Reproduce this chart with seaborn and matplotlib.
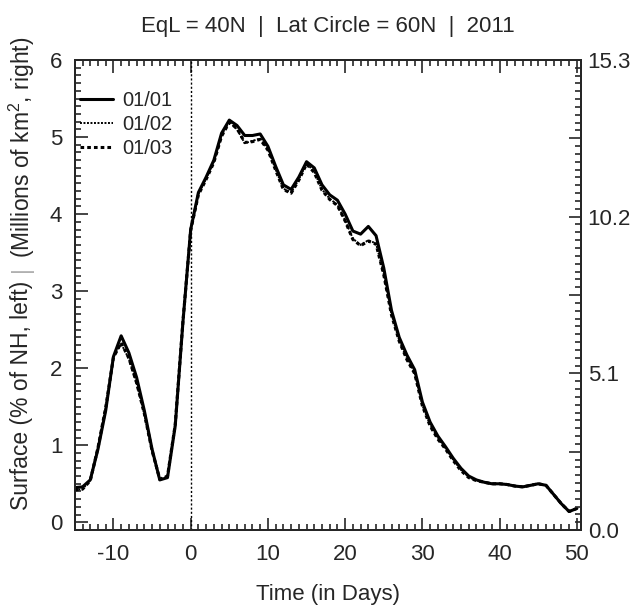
import pandas as pd
import numpy as np
import matplotlib.pyplot as plt
from matplotlib.lines import Line2D
from matplotlib.ticker import MultipleLocator, FixedLocator, FuncFormatter
import seaborn as sns

# Data (days relative to onset, % of NH area)
days = list(range(-15, 51))

s0101 = [0.45, 0.46, 0.55, 0.95, 1.45, 2.15, 2.42, 2.20, 1.88, 1.45,
         0.95, 0.55, 0.58, 1.25, 2.60, 3.80, 4.28, 4.48, 4.70, 5.05,
         5.22, 5.15, 5.02, 5.02, 5.04, 4.88, 4.62, 4.38, 4.32, 4.48,
         4.68, 4.60, 4.38, 4.25, 4.18, 4.00, 3.78, 3.74, 3.84, 3.72,
         3.30, 2.75, 2.40, 2.17, 1.98, 1.56, 1.30, 1.12, 0.98, 0.83,
         0.70, 0.60, 0.55, 0.52, 0.50, 0.50, 0.49, 0.47, 0.46, 0.48,
         0.50, 0.48, 0.36, 0.24, 0.14, 0.18]

s0102 = [0.42, 0.43, 0.55, 0.98, 1.50, 2.15, 2.32, 2.12, 1.80, 1.40,
         0.92, 0.55, 0.60, 1.28, 2.62, 3.80, 4.26, 4.46, 4.68, 5.02,
         5.20, 5.10, 4.92, 4.95, 4.98, 4.84, 4.58, 4.33, 4.28, 4.45,
         4.66, 4.55, 4.32, 4.20, 4.12, 3.92, 3.68, 3.60, 3.66, 3.62,
         3.22, 2.70, 2.36, 2.12, 1.94, 1.52, 1.26, 1.09, 0.96, 0.81,
         0.68, 0.59, 0.54, 0.52, 0.50, 0.50, 0.49, 0.47, 0.46, 0.48,
         0.50, 0.48, 0.36, 0.24, 0.14, 0.18]

s0103 = [0.42, 0.43, 0.54, 0.97, 1.49, 2.14, 2.33, 2.13, 1.81, 1.41,
         0.93, 0.56, 0.60, 1.27, 2.61, 3.79, 4.25, 4.45, 4.67, 5.01,
         5.19, 5.11, 4.93, 4.94, 4.97, 4.83, 4.57, 4.32, 4.27, 4.44,
         4.65, 4.54, 4.31, 4.19, 4.11, 3.91, 3.67, 3.59, 3.65, 3.61,
         3.21, 2.69, 2.35, 2.11, 1.93, 1.51, 1.25, 1.08, 0.95, 0.80,
         0.67, 0.58, 0.54, 0.52, 0.50, 0.50, 0.49, 0.47, 0.46, 0.48,
         0.50, 0.48, 0.36, 0.24, 0.14, 0.18]

dates = ['01/01', '01/02', '01/03']
series = [s0101, s0102, s0103]

df = pd.concat([pd.DataFrame({'day': days, 'surface': s, 'date': d})
                for d, s in zip(dates, series)], ignore_index=True)

sns.set_style('ticks')
plt.rcParams['font.family'] = ['Liberation Sans', 'DejaVu Sans']
plt.rcParams['mathtext.fontset'] = 'custom'
plt.rcParams['mathtext.rm'] = 'Liberation Sans'
plt.rcParams['axes.unicode_minus'] = False

fig = plt.figure(figsize=(6.34, 6.06), dpi=100)
ax = fig.add_axes([0.118, 0.1254, 0.798, 0.7756])

styles = {'01/01': dict(ls='-', lw=2.2),
          '01/02': dict(ls=(0, (1, 0.8)), lw=1.4),
          '01/03': dict(ls=(0, (1.2, 1.0)), lw=2.2)}

for d in dates[::-1]:
    sns.lineplot(data=df[df['date'] == d], x='day', y='surface', ax=ax,
                 color='black', linestyle=styles[d]['ls'],
                 linewidth=styles[d]['lw'], legend=False)

ax.axvline(0, color='black', lw=1.0, ls=(0, (1.5, 1.5)))

ax.set_xlim(-15, 50.5)
ax.set_ylim(-0.1, 6.0)
ax.xaxis.set_major_locator(FixedLocator([-10, 0, 10, 20, 30, 40, 50]))
ax.xaxis.set_minor_locator(MultipleLocator(1))
ax.yaxis.set_major_locator(MultipleLocator(1))
ax.yaxis.set_minor_locator(MultipleLocator(0.1))
ax.tick_params(which='both', direction='in', top=True, right=False,
               labelsize=16, width=1.2)
ax.tick_params(which='major', length=9)
ax.tick_params(which='minor', length=4.5)
ax.tick_params(axis='x', which='major', pad=10)
ax.tick_params(axis='y', which='major', pad=9)
for sp in ax.spines.values():
    sp.set_linewidth(1.4)

ax2 = ax.twinx()
ax2.set_ylim(0, 15.3)
ax2.yaxis.set_major_locator(MultipleLocator(2.55))
ax2.yaxis.set_minor_locator(MultipleLocator(0.255))
ax2.yaxis.set_major_formatter(FuncFormatter(
    lambda v, p: f'{v:.1f}' if round(v / 2.55) % 2 == 0 else ''))
ax2.tick_params(which='both', direction='in', labelsize=16, width=1.2)
ax2.tick_params(which='major', length=9, pad=5)
ax2.tick_params(which='minor', length=4.5)
for sp in ax2.spines.values():
    sp.set_linewidth(1.4)

ax.set_xlabel('Time (in Days)', fontsize=16, labelpad=14)
ax.set_ylabel('')
ax.set_title('EqL = 40N  |  Lat Circle = 60N  |  2011', fontsize=16, pad=20)

# y label in three pieces so the separator can be grey
lx, ly = -0.105, 0.555
kw = dict(transform=ax.transAxes, rotation=90, rotation_mode='anchor',
          va='center', fontsize=16.5)
ax.text(lx, ly - 0.024, 'Surface (% of NH, left)', ha='right', **kw)
ax.text(lx, ly, '|', ha='center', color='#b0b0b0', **kw)
ax.text(lx, ly + 0.024, '(Millions of km$^2$, right)', ha='left', **kw)

handles = [Line2D([], [], color='black', linestyle=styles[d]['ls'],
                  linewidth=styles[d]['lw']) for d in dates]
ax.legend(handles, dates, loc='upper left', frameon=False, fontsize=14.5,
          handlelength=1.65, handletextpad=0.45, labelspacing=0.25,
          borderaxespad=0.1, bbox_to_anchor=(-0.01, 0.955))

fig.savefig('out.png', dpi=100)
